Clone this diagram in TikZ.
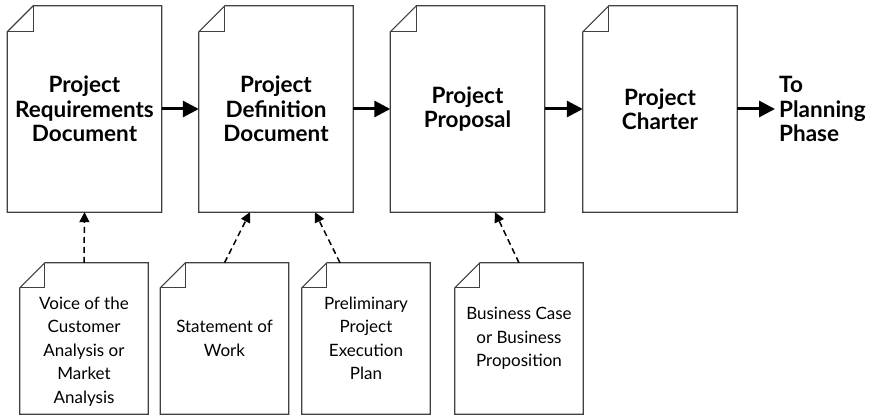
\documentclass[tikz,border=0pt]{standalone}
\usepackage{fontspec}
\setmainfont{Lato}
\usetikzlibrary{arrows.meta,calc,positioning}

\tikzset{
  docpage/.style={minimum width=154pt, minimum height=206pt, inner sep=0pt, align=center,
    font=\fontsize{22.5}{24.5}\selectfont\bfseries},
  notepage/.style={minimum width=128pt, minimum height=151pt, inner sep=0pt, align=center,
    font=\fontsize{17}{23.5}\selectfont},
  outline/.style={draw=black!75, line width=1.2pt, line join=miter},
  flow/.style={line width=3pt, -{Triangle[length=16pt,width=16pt]}},
  feed/.style={line width=1.5pt, dash pattern=on 6pt off 4pt, -{Triangle[length=10pt,width=10pt]}}
}

% page outline with folded top-left corner
\newcommand\pageframe[2]{%
  \draw[outline] ([xshift=#2]#1.north west) -- (#1.north east) -- (#1.south east)
    -- (#1.south west) -- ([yshift=-#2]#1.north west) -- cycle;
  \draw[outline] ([yshift=-#2]#1.north west) -- ([xshift=#2,yshift=-#2]#1.north west)
    -- ([xshift=#2]#1.north west);
}

\begin{document}
\begin{tikzpicture}[x=1pt,y=-1pt]
\useasboundingbox (0,0) rectangle (875,417);

% main documents
\node[docpage] (reqdoc) at (84.5,109) {Project\\Requirements\\Document};
\node[docpage] (defdoc) at (276,109) {Project\\Definition\\Document};
\node[docpage] (proposal) at (467.5,109) {Project\\Proposal};
\node[docpage] (charter) at (660,109) {Project\\Charter};
\node[anchor=west, align=left, inner sep=0pt, font=\fontsize{22.5}{24.5}\selectfont\bfseries]
  (planning) at (779,109) {To\\Planning\\Phase};

% input documents
\node[notepage, label={[name=vocnote, align=center, yshift=-13pt,
  font=\fontsize{17}{23.5}\selectfont]center:Voice of the\\Customer\\Analysis or\\Market\\Analysis}]
  (voc) at (84,338.5) {};
\node[notepage] (sow) at (224.5,338.5) {Statement of\\Work};
\node[notepage] (pep) at (366,338.5) {Preliminary\\Project\\Execution\\Plan};
\node[notepage] (bcase) at (519,338.5) {Business Case\\or Business\\Proposition};

\foreach \n in {reqdoc,defdoc,proposal,charter} {\pageframe{\n}{26pt}}
\foreach \n in {voc,sow,pep,bcase} {\pageframe{\n}{25pt}}

% flow between documents
\draw[flow] (reqdoc) -- (defdoc);
\draw[flow] (defdoc) -- (proposal);
\draw[flow] (proposal) -- (charter);
\draw[flow] (charter.east) -- ([xshift=-4pt]planning.west);

% inputs
\draw[feed] (voc.north) -- (reqdoc.south);
\draw[feed] (sow.north) -- ([xshift=-26pt]defdoc.south);
\draw[feed] ([xshift=-26pt]pep.north) -- ([xshift=39pt]defdoc.south);
\draw[feed] (bcase.north) -- ([xshift=27.5pt]proposal.south);
\end{tikzpicture}
\end{document}
